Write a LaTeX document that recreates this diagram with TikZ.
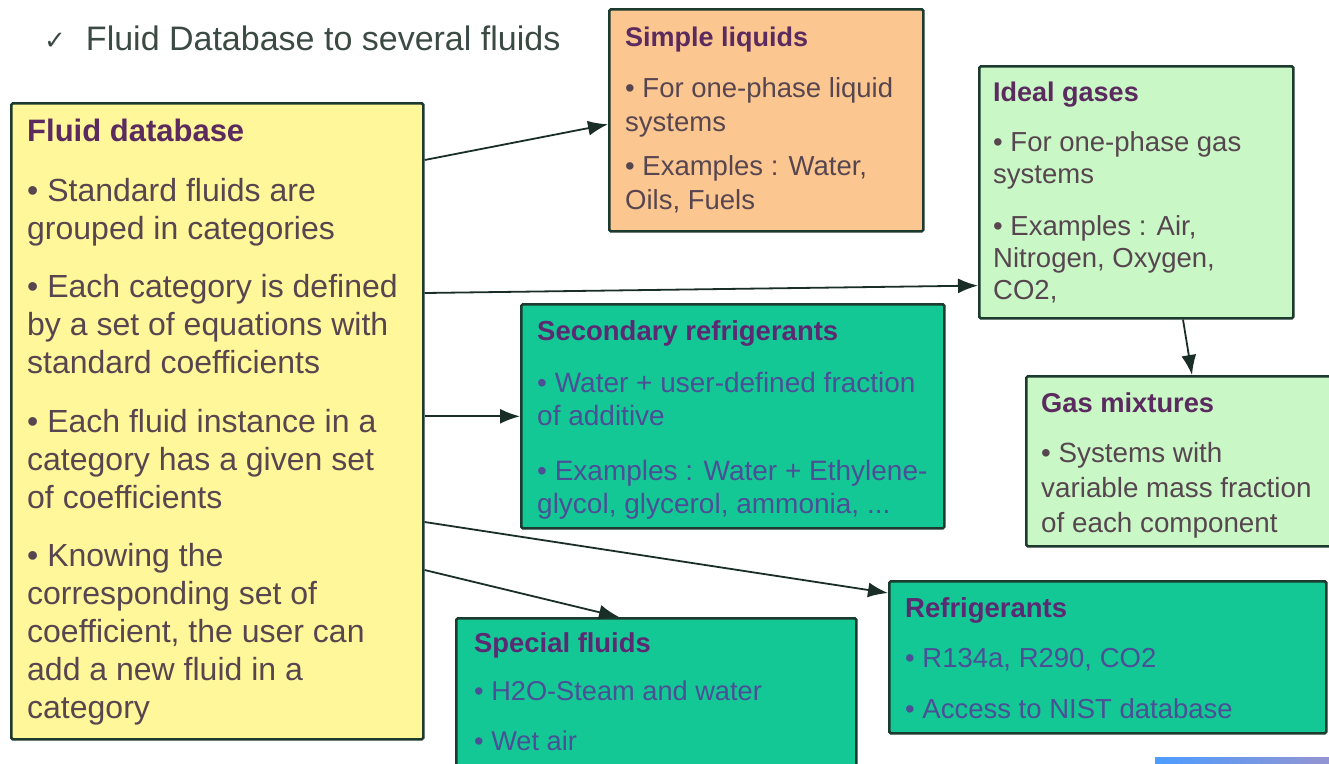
\documentclass[tikz,border=0pt]{standalone}
\usepackage{fontspec}
\setmainfont{Liberation Sans}
\newfontfamily\symfont{DejaVu Sans}
\usetikzlibrary{arrows.meta}

\definecolor{yellowbox}{HTML}{FFF799}
\definecolor{orangebox}{HTML}{FBC690}
\definecolor{greenbox}{HTML}{C9F7C6}
\definecolor{tealbox}{HTML}{14C896}
\definecolor{boxline}{HTML}{1D3A2E}
\definecolor{linkcol}{HTML}{1A2E28}
\definecolor{titlecol}{HTML}{5B2A5E}
\definecolor{bodycol}{HTML}{57464F}
\definecolor{tealtext}{HTML}{4B4F95}
\definecolor{tealtitle}{HTML}{5B2A72}
\definecolor{leadcol}{HTML}{3C4A44}

\tikzset{
  box/.style={draw=boxline, line width=2.6pt, rounded corners=1.5pt,
              anchor=north west, inner sep=0pt},
  txt/.style={anchor=north west, inner sep=0pt, align=left},
  link/.style={draw=linkcol, line width=1.8pt,
               -{Latex[length=20pt,width=15pt]}},
}

\begin{document}
\begin{tikzpicture}[x=1pt,y=-1pt]
\useasboundingbox (0,0) rectangle (1329,763);
\clip (0,0) rectangle (1329,763);
\fill[white] (0,0) rectangle (1329,763);

% heading line
\node[txt, text=leadcol, font=\fontsize{34}{40}\selectfont] (lead) at (44,26)
  {{\symfont\fontsize{26}{30}\selectfont\raisebox{1pt}{✓}}\hspace{20pt}Fluid Database to several fluids};

% boxes
\node[box, fill=yellowbox, minimum width=412pt, minimum height=636pt] (fd) at (10,102) {};
\node[box, fill=orangebox, minimum width=314pt, minimum height=222pt] (sl) at (608,8) {};
\node[box, fill=greenbox,  minimum width=314pt, minimum height=252pt] (ig) at (978,65) {};
\node[box, fill=tealbox,   minimum width=423pt, minimum height=224pt] (sr) at (520,303) {};
\node[box, fill=greenbox,  minimum width=315pt, minimum height=170pt] (gm) at (1025,375) {};
\node[box, fill=tealbox,   minimum width=437pt, minimum height=152pt] (rf) at (888,580) {};
\node[box, fill=tealbox,   minimum width=400pt, minimum height=170pt] (sf) at (455,617) {};

% box texts
\node[txt, text=bodycol, font=\fontsize{32}{38}\selectfont] (fdt) at (27,119)
  {{\bfseries\fontsize{31}{34}\selectfont\color{titlecol}Fluid database}\\[22pt]
   • Standard fluids are\\ grouped in categories\\[20pt]
   • Each category is defined\\ by a set of equations with\\ standard coefficients\\[21pt]
   • Each fluid instance in a\\ category has a given set\\ of coefficients\\[20pt]
   • Knowing the\\ corresponding set of\\ coefficient, the user can\\ add a new fluid in a\\ category};

\node[txt, text=bodycol, font=\fontsize{27.5}{34}\selectfont] (slt) at (625,27)
  {{\bfseries\fontsize{27}{30}\selectfont\color{titlecol}Simple liquids}\\[17pt]
   • For one-phase liquid\\ systems\\[10pt]
   • Examples : Water,\\ Oils, Fuels};

\node[txt, text=bodycol, font=\fontsize{27.5}{32}\selectfont] (igt) at (993,82)
  {{\bfseries\fontsize{27}{30}\selectfont\color{titlecol}Ideal gases}\\[18pt]
   • For one-phase gas\\ systems\\[20pt]
   • Examples : Air,\\ Nitrogen, Oxygen,\\ CO2,};

\node[txt, text=tealtext, font=\fontsize{28}{33}\selectfont] (srt) at (537,320)
  {{\bfseries\fontsize{27.5}{30}\selectfont\color{tealtitle}Secondary refrigerants}\\[19pt]
   • Water + user-defined fraction\\ of additive\\[22pt]
   • Examples : Water + Ethylene-\\ glycol, glycerol, ammonia, ...};

\node[txt, text=bodycol, font=\fontsize{27.8}{35}\selectfont] (gmt) at (1041,393)
  {{\bfseries\fontsize{27.3}{30}\selectfont\color{titlecol}Gas mixtures}\\[15pt]
   • Systems with\\ variable mass fraction\\ of each component};

\node[txt, text=tealtext, font=\fontsize{27.5}{32}\selectfont] (rft) at (905,597)
  {{\bfseries\fontsize{27.5}{30}\selectfont\color{tealtitle}Refrigerants}\\[18pt]
   • R134a, R290, CO2\\[19pt]
   • Access to NIST database};

\node[txt, text=tealtext, font=\fontsize{27.2}{32}\selectfont] (sft) at (474,632)
  {{\bfseries\fontsize{27.4}{30}\selectfont\color{tealtitle}Special fluids}\\[16pt]
   • H2O-Steam and water\\[18pt]
   • Wet air};

% connectors
\draw[link] ([yshift=-58pt]fd.north east)  -- ([yshift=-4pt]sl.west);
\draw[link] ([yshift=-191pt]fd.north east) -- ([yshift=34pt]ig.south west);
\draw[link] (fd.east |- sr.west) -- (sr.west);
\draw[link] ([yshift=-420pt]fd.north east) -- ([yshift=-13pt]rf.north west);
\draw[link] ([yshift=-468pt]fd.north east) -- ([xshift=164pt]sf.north west);
\draw[link] ([xshift=205pt]ig.south west)  -- ([xshift=167pt]gm.north west);

% logo fragment in the lower right corner
\fill[left color=blue!55!cyan!70, right color=blue!40!gray!60]
  (1155,757) rectangle (1329,765);
\end{tikzpicture}
\end{document}
